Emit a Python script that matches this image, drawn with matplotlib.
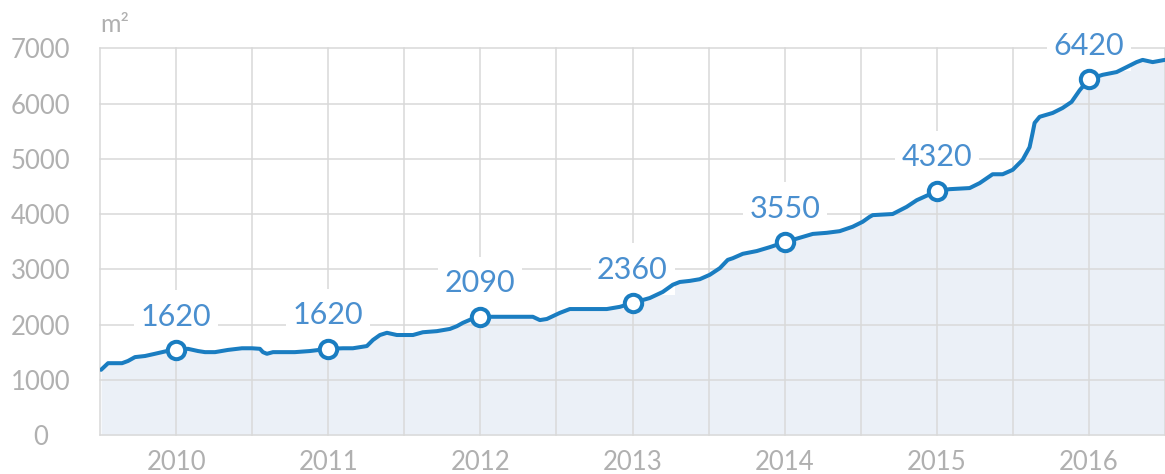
import matplotlib
matplotlib.use("Agg")
import matplotlib.pyplot as plt
import matplotlib.transforms as mtransforms
from matplotlib.patches import Rectangle

# ---- data ----
years = [2009.507, 2009.553, 2009.612, 2009.645, 2009.684, 2009.730, 2009.796, 2009.861, 2009.940,
         2010.000, 2010.078, 2010.144, 2010.190, 2010.256, 2010.341, 2010.433, 2010.499, 2010.551,
         2010.571, 2010.597, 2010.637, 2010.696, 2010.781, 2010.880,
         2011.000, 2011.097, 2011.162, 2011.208, 2011.254, 2011.294, 2011.340, 2011.386, 2011.451,
         2011.557, 2011.622, 2011.714, 2011.800, 2011.846, 2011.885, 2011.944,
         2012.000, 2012.108, 2012.213, 2012.345, 2012.391, 2012.437, 2012.522, 2012.588, 2012.700,
         2012.831, 2012.917,
         2013.000, 2013.114, 2013.199, 2013.265, 2013.311, 2013.377, 2013.442, 2013.508, 2013.574,
         2013.626, 2013.659, 2013.725, 2013.817, 2013.902,
         2014.000, 2014.099, 2014.185, 2014.277, 2014.362, 2014.447, 2014.513, 2014.559, 2014.579,
         2014.710, 2014.802, 2014.868, 2014.940,
         2015.000, 2015.085, 2015.216, 2015.282, 2015.367, 2015.433, 2015.499, 2015.564, 2015.610,
         2015.630, 2015.643, 2015.676, 2015.762, 2015.827, 2015.886, 2015.939,
         2016.000, 2016.090, 2016.182, 2016.248, 2016.313, 2016.353, 2016.419, 2016.498]
values = [1180, 1300, 1300, 1300, 1340, 1410, 1430, 1470, 1520,
          1540, 1560, 1520, 1500, 1500, 1540, 1570, 1570, 1560,
          1500, 1470, 1500, 1500, 1500, 1520,
          1560, 1570, 1570, 1590, 1610, 1720, 1810, 1850, 1810,
          1810, 1860, 1880, 1920, 1970, 2030, 2100,
          2140, 2140, 2140, 2140, 2080, 2100, 2210, 2280, 2280,
          2280, 2320,
          2390, 2480, 2590, 2720, 2770, 2790, 2820, 2900, 3020,
          3170, 3200, 3280, 3330, 3400,
          3490, 3570, 3640, 3660, 3690, 3770, 3860, 3950, 3980,
          4000, 4130, 4250, 4340,
          4420, 4450, 4470, 4560, 4720, 4720, 4800, 4980, 5210,
          5470, 5650, 5760, 5830, 5920, 6030, 6240,
          6440, 6520, 6570, 6660, 6750, 6790, 6750, 6790]

marker_years = [2010, 2011, 2012, 2013, 2014, 2015, 2016]
marker_values = [1540, 1560, 2140, 2390, 3490, 4420, 6440]
marker_labels = ["1620", "1620", "2090", "2360", "3550", "4320", "6420"]

y_ticks = [0, 1000, 2000, 3000, 4000, 5000, 6000, 7000]
x_ticks = [2010, 2011, 2012, 2013, 2014, 2015, 2016]
x_tick_labels = ["2010", "2011", "2012", "2013", "2014", "2015", "2016"]
unit_label = "m²"

# ---- style ----
LINE = "#1a7dc1"
LABEL = "#4a8fcf"
FILL = "#ebf0f7"
GRID = "#d9d9d9"
TICK = "#b0b0b0"
FONT = ["Lato", "DejaVu Sans"]

plt.rcParams['font.family'] = FONT

fig = plt.figure(figsize=(11.65, 4.74), dpi=100)
ax = fig.add_axes([100/1165, 39/474, 1065/1165, 386.7/474])
ax.set_xlim(2009.5, 2016.5)
ax.set_ylim(0, 7000)

# grid
for yv in y_ticks:
    ax.axhline(yv, color=GRID, lw=1.1, zorder=0.5, clip_on=False)
xv = 2009.5
while xv <= 2016.51:
    ax.axvline(xv, color=GRID, lw=1.1, zorder=0.5, clip_on=False)
    xv += 0.5

for s in ax.spines.values():
    s.set_visible(False)

ax.fill_between(years, values, 0, color=FILL, lw=0, zorder=0.2)
ax.plot(years, values, color=LINE, lw=2.9, solid_joinstyle='round',
        solid_capstyle='round', zorder=2)

ax.plot(marker_years, marker_values, 'o', ms=12.5, mfc='white', mec=LINE, mew=2.9, zorder=3)

for xm, ym, lab in zip(marker_years, marker_values, marker_labels):
    trans = fig.dpi_scale_trans + mtransforms.ScaledTranslation(xm, ym, ax.transData)
    ax.add_patch(Rectangle((-0.42, 0.08), 0.84, 0.52, transform=trans,
                           facecolor='white', edgecolor='none', zorder=0.8, clip_on=False))
    ax.annotate(lab, (xm, ym), xytext=(0, 24), textcoords='offset points',
                ha='center', va='center', fontsize=22, color=LABEL,
                zorder=4, annotation_clip=False)

ax.set_yticks(y_ticks)
ax.set_yticklabels([str(v) for v in y_ticks], ha='center')
ax.set_xticks(x_ticks)
ax.set_xticklabels(x_tick_labels)
ax.tick_params(axis='y', length=0, pad=43, labelsize=18.5, labelcolor=TICK)
ax.tick_params(axis='x', length=0, pad=11, labelsize=18.5, labelcolor=TICK)

fig.text(100/1165, 1 - 32/474, unit_label, ha='left', va='baseline',
         fontsize=18, color=TICK)

fig.savefig("out.png", dpi=100)
